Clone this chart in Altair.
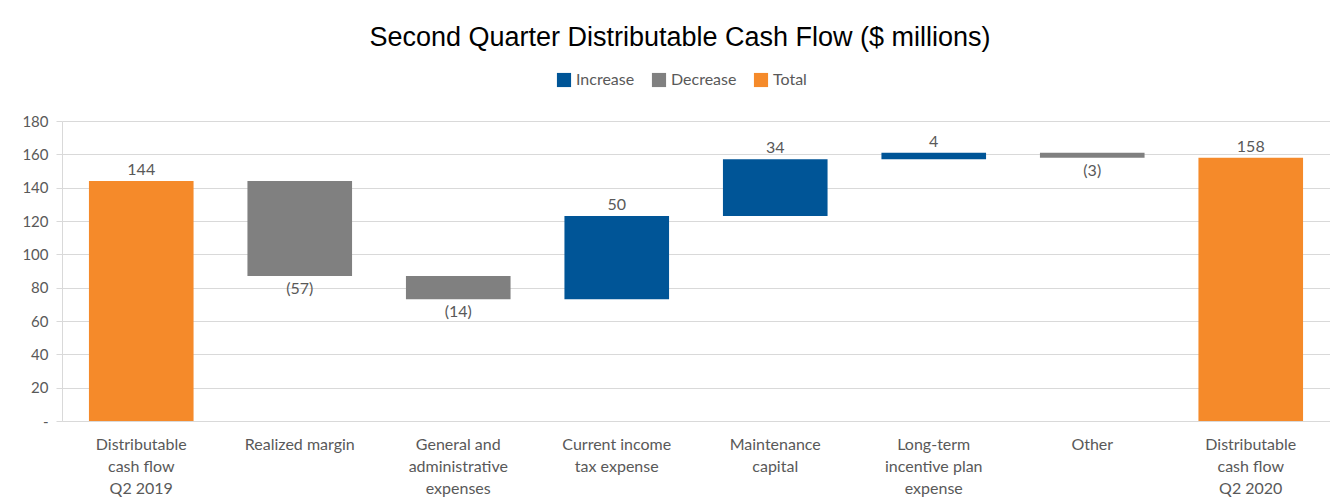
import altair as alt
import pandas as pd

categories = [
    "Distributable\ncash flow\nQ2 2019",
    "Realized margin",
    "General and\nadministrative\nexpenses",
    "Current income\ntax expense",
    "Maintenance\ncapital",
    "Long-term\nincentive plan\nexpense",
    "Other",
    "Distributable\ncash flow\nQ2 2020",
]
values = [144, -57, -14, 50, 34, 4, -3, 158]
kinds = ["Total", "Decrease", "Decrease", "Increase", "Increase", "Increase", "Decrease", "Total"]
labels = ["144", "(57)", "(14)", "50", "34", "4", "(3)", "158"]
y_ticks = [0, 20, 40, 60, 80, 100, 120, 140, 160, 180]

rows = []
running = 0
for i, (c, v, k, l) in enumerate(zip(categories, values, kinds, labels)):
    if k == "Total":
        start, end = 0, v
        running = v
    else:
        start, end = running, running + v
        running = end
    rows.append({"cat": c, "order": i, "start": start, "end": end, "kind": k, "label": l,
                 "top": max(start, end), "bottom": min(start, end)})
df = pd.DataFrame(rows)

color_scale = alt.Scale(domain=["Increase", "Decrease", "Total"],
                        range=["#005597", "#808080", "#F58A2A"])
FONT = "Lato"
GREY = "#595959"

x = alt.X("cat:N", sort=categories, title=None,
          scale=alt.Scale(paddingInner=0.34, paddingOuter=0.17),
          axis=alt.Axis(labelExpr="split(datum.label, '\\n')", labelAngle=0,
                        labelFont=FONT, labelFontSize=16, labelColor=GREY,
                        labelLineHeight=22, labelPadding=15, ticks=False,
                        domainColor="#d9d9d9", labelBaseline="top"))

yscale = alt.Scale(domain=[0, 180])
yaxis = alt.Axis(values=y_ticks, labelOverlap=False,
                 labelExpr="datum.value == 0 ? '-' : datum.label",
                 labelFont=FONT, labelFontSize=15, labelColor=GREY,
                 labelPadding=8, tickColor="#d9d9d9", tickSize=6,
                 gridColor="#d9d9d9", domainColor="#d9d9d9")

base = alt.Chart(df).encode(x=x)

bars = base.mark_bar().encode(
    y=alt.Y("start:Q", title=None, scale=yscale, axis=yaxis),
    y2="end:Q",
    color=alt.Color("kind:N", scale=color_scale, title=None,
                    legend=alt.Legend(orient="none", direction="horizontal",
                                      legendX=494, legendY=-49,
                                      symbolType="square", symbolSize=200,
                                      symbolStrokeWidth=0,
                                      labelFont=FONT, labelFontSize=16,
                                      labelColor=GREY, columnPadding=16)),
)

up = base.transform_filter("datum.kind != 'Decrease'").mark_text(
    baseline="bottom", dy=-3, font=FONT, fontSize=16, color=GREY
).encode(y=alt.Y("top:Q", title=None, scale=yscale, axis=yaxis), text="label:N")

down = base.transform_filter("datum.kind == 'Decrease'").mark_text(
    baseline="top", dy=5, font=FONT, fontSize=16, color=GREY
).encode(y=alt.Y("bottom:Q", title=None, scale=yscale, axis=yaxis), text="label:N")

chart = (bars + up + down).properties(
    width=1268, height=300,
    title=alt.TitleParams("Second Quarter Distributable Cash Flow ($ millions)",
                          font="Liberation Sans", fontSize=27, fontWeight="normal",
                          color="#000000", anchor="middle", dx=-16, offset=20),
    autosize=alt.AutoSizeParams(type="none"),
    padding={"left": 54, "top": 113, "right": 0, "bottom": 78},
    background="white",
).configure_view(stroke=None)

chart.save("out.html", embed_options={"renderer": "svg", "actions": False})
